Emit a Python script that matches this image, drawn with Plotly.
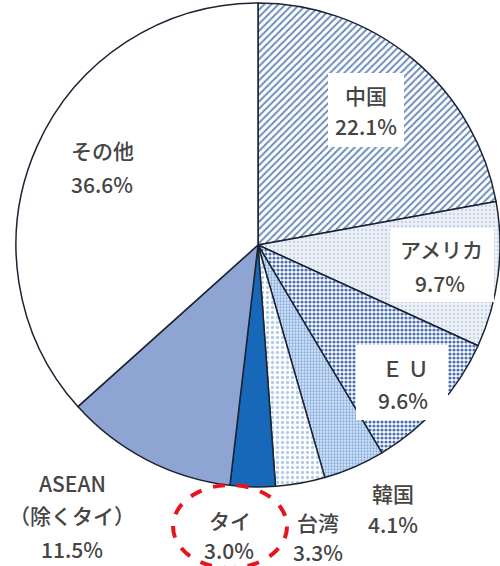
import plotly.graph_objects as go

labels = ["中国", "アメリカ", "ＥＵ", "韓国", "台湾", "タイ", "ASEAN（除くタイ）", "その他"]
values = [22.1, 9.7, 9.6, 4.1, 3.3, 3.0, 11.5, 36.6]
label_lines = [["中国", "22.1%"], ["アメリカ", "9.7%"], ["Ｅ Ｕ", "9.6%"], ["韓国", "4.1%"],
               ["台湾", "3.3%"], ["タイ", "3.0%"], ["ASEAN", "（除くタイ）", "11.5%"], ["その他", "36.6%"]]

W, H = 500, 566

def px(x):
    return x / W

def py(y):
    return 1 - y / H

shapes_pat = ["/", ".", ".", ".", ".", "", "", ""]
bgcols = ["#ffffff", "#eef1f7", "#ffffff", "#d6e5f6", "#ffffff", "#1768b8", "#8ea4d2", "#ffffff"]
fgcols = ["#6b8cba", "#c9d3e6", "#4a70b5", "#86ade0", "#b3cce9", "#1768b8", "#8ea4d2", "#ffffff"]
sizes = [5, 4, 4, 3, 5, 8, 8, 8]
solid = [0.4, 0.3, 0.5, 0.45, 0.35, 0.3, 0.3, 0.3]

fig = go.Figure(go.Pie(
    labels=labels, values=values, sort=False, direction="clockwise", rotation=0,
    textinfo="none", hoverinfo="label+percent",
    marker=dict(colors=bgcols, line=dict(color="#1c2433", width=1.5),
                pattern=dict(shape=shapes_pat, fgcolor=fgcols, bgcolor=bgcols,
                             size=sizes, solidity=solid, fillmode="replace")),
    domain=dict(x=[px(16), px(500)], y=[py(487), py(3)]),
    showlegend=False,
))

# label positions (pixel centres of each line)
pos = [[(366, 95), (366, 126)], [(441, 249), (440, 283)], [(405, 368), (403, 400)],
       [(393, 493), (393, 524)], [(318, 522), (318, 552)], [(230, 520), (229, 550)],
       [(72, 483), (72, 515), (72, 549)], [(102, 150), (102, 184)]]
boxes = [(328, 73, 404, 147), (390, 228, 494, 302), (356, 345, 448, 420)]

shapes = []
for (x0, y0, x1, y1) in boxes:
    shapes.append(dict(type="rect", xref="paper", yref="paper", x0=px(x0), x1=px(x1),
                       y0=py(y1), y1=py(y0), fillcolor="white", line=dict(width=0), layer="above"))
shapes.append(dict(type="circle", xref="paper", yref="paper", x0=px(173), x1=px(287),
                   y0=py(568), y1=py(485), line=dict(color="#e8141b", width=4, dash="dash"),
                   fillcolor="rgba(0,0,0,0)", layer="above"))

ann = []
for lines, ps in zip(label_lines, pos):
    for t, (x, y) in zip(lines, ps):
        ann.append(dict(text=t, x=px(x), y=py(y), xref="paper", yref="paper", showarrow=False,
                        xanchor="center", yanchor="middle",
                        font=dict(family="Noto Sans CJK JP", size=21, color="#454545", weight=500)))

fig.update_layout(width=W, height=H, margin=dict(l=0, r=0, t=0, b=0),
                  paper_bgcolor="white", plot_bgcolor="white",
                  shapes=shapes, annotations=ann)
fig.write_html("out.html", config={"displayModeBar": False},
               post_script="document.body.style.margin='0';")
